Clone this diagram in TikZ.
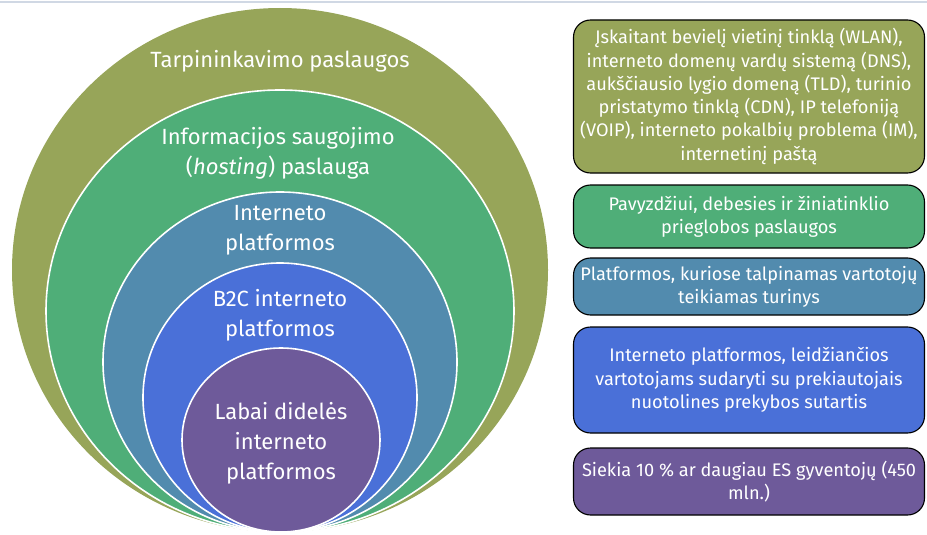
\documentclass[tikz,border=0pt]{standalone}
\usepackage{fontspec}
\setmainfont{Fira Sans}
\usepackage{xcolor}
\usepackage{tikz}
\usetikzlibrary{positioning}
\definecolor{olivec}{RGB}{151,165,89}
\definecolor{greenc}{RGB}{79,174,120}
\definecolor{tealc}{RGB}{82,139,174}
\definecolor{bluec}{RGB}{74,112,216}
\definecolor{purplec}{RGB}{110,90,154}
\definecolor{topline}{RGB}{208,216,228}
\tikzstyle{ring} = [draw=white, line width=1.6pt]
\tikzstyle{ringtext} = [text=white, align=center, font=\fontsize{22}{30}\selectfont]
\tikzstyle{infobox} = [draw=black, line width=1.1pt, rounded corners=17pt, text=white, align=center, minimum width=351pt, inner sep=0pt, font=\fontsize{18.2}{23.3}\selectfont]

\begin{document}
\begin{tikzpicture}[x=1pt,y=-1pt]
\useasboundingbox (0,0) rectangle (927,535);

% Top line
\draw[topline, line width=2pt] (0,2) -- (927,2);

% Nested rings
\fill[olivec] (280,270) ellipse [x radius=268pt, y radius=262pt];
\filldraw[ring, fill=greenc] (280,311) ellipse [x radius=234pt, y radius=221pt];
\filldraw[ring, fill=tealc] (280,362) ellipse [x radius=177pt, y radius=170pt];
\filldraw[ring, fill=bluec] (280,397.5) ellipse [x radius=137pt, y radius=134.5pt];
\filldraw[ring, fill=purplec] (281,440) ellipse [x radius=99pt, y radius=92pt];

% Ring labels
\node[ringtext] (lblmid) at (280,61) {Tarpininkavimo paslaugos};
\node[ringtext] (lblhost) at (278,153) {Informacijos saugojimo\\(\textit{hosting}) paslauga};
\node[ringtext] (lblplat) at (280,230) {Interneto\\platformos};
\node[ringtext] (lblbtc) at (280,315) {B2C interneto\\platformos};
\node[ringtext] (lblvlop) at (281,443) {Labai didelės\\interneto\\platformos};

% Description boxes
\node[infobox, fill=olivec, minimum height=153pt] (boxmid) at (749,96.5)
  {Įskaitant bevielį vietinį tinklą (WLAN),\\interneto domenų vardų sistemą (DNS),\\aukščiausio lygio domeną (TLD), turinio\\pristatymo tinklą (CDN), IP telefoniją\\(VOIP), interneto pokalbių problema (IM),\\internetinį paštą};
\node[infobox, fill=greenc, minimum height=63pt] (boxhost) at (749,216.5)
  {Pavyzdžiui, debesies ir žiniatinklio\\prieglobos paslaugos};
\node[infobox, fill=tealc, minimum height=57pt] (boxplat) at (749,286.5)
  {Platformos, kuriose talpinamas vartotojų\\teikiamas turinys};
\node[infobox, fill=bluec, minimum height=106pt] (boxbtc) at (749,380)
  {Interneto platformos, leidžiančios\\vartotojams sudaryti su prekiautojais\\nuotolines prekybos sutartis};
\node[infobox, fill=purplec, minimum height=67pt] (boxvlop) at (749,481.5)
  {Siekia 10 \% ar daugiau ES gyventojų (450\\mln.)};
\end{tikzpicture}
\end{document}
